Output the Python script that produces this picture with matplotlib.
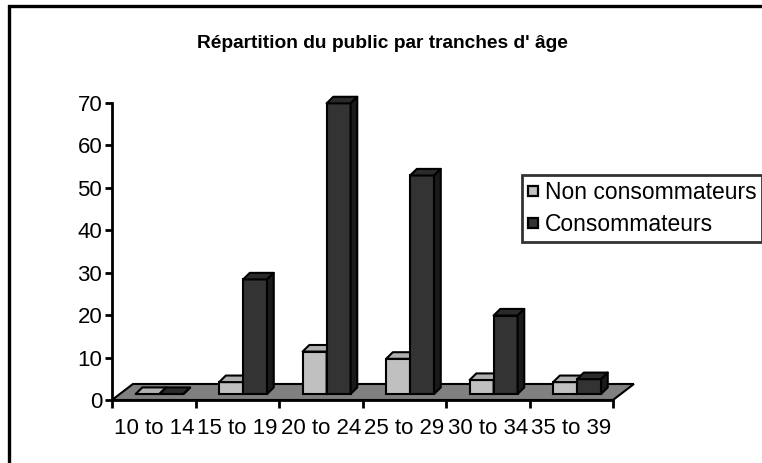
import numpy as np
import matplotlib
matplotlib.use('Agg')
import matplotlib.pyplot as plt
from matplotlib.patches import Polygon, Rectangle
from matplotlib.lines import Line2D

plt.rcParams['font.family'] = ['Liberation Sans', 'DejaVu Sans']

# donnees
categories = ['10 to 14', '15 to 19', '20 to 24', '25 to 29', '30 to 34', '35 to 39']
non_conso = [0, 2.8, 10, 8.3, 3.3, 2.8]
conso = [0, 27, 68.5, 51.5, 18.5, 3.5]
series_names = ['Non consommateurs', 'Consommateurs']
title = "Répartition du public par tranches d' âge"

# couleurs (front, top, side)
light = ('#c0c0c0', '#b0b0b0', '#8c8c8c')
dark = ('#333333', '#2a2a2a', '#1a1a1a')
floor_col = '#808080'

fig = plt.figure(figsize=(7.62, 4.63), dpi=100)
ax = fig.add_axes([0.147, 0.1361, 0.6575, 0.6415])
ax.set_xlim(0, len(categories))
ax.set_ylim(0, 70)

# profondeur (unites des donnees)
floor_dx, floor_dy = 0.25, 3.77
bar_base = 1.41
bar_dx, bar_dy = 0.08, 1.55
offset, width = 0.283, 0.287

# sol
floor = Polygon([(0, 0), (len(categories), 0),
                 (len(categories) + floor_dx, floor_dy), (floor_dx, floor_dy)],
                closed=True, facecolor=floor_col, edgecolor='black', lw=1.5,
                clip_on=False, zorder=1)
ax.add_patch(floor)


def draw_bar(x, v, cols, z):
    ax.bar(x, v, width, bottom=bar_base, align='edge', color=cols[0],
           edgecolor='black', linewidth=1.5, clip_on=False, zorder=z)
    top = bar_base + v
    ax.add_patch(Polygon([(x, top), (x + width, top),
                          (x + width + bar_dx, top + bar_dy), (x + bar_dx, top + bar_dy)],
                         closed=True, facecolor=cols[1], edgecolor='black', lw=1.5,
                         joinstyle='round', clip_on=False, zorder=z))
    ax.add_patch(Polygon([(x + width, bar_base), (x + width, top),
                          (x + width + bar_dx, top + bar_dy),
                          (x + width + bar_dx, bar_base + bar_dy)],
                         closed=True, facecolor=cols[2], edgecolor='black', lw=1.5,
                         joinstyle='round', clip_on=False, zorder=z))


z = 2
for i in range(len(categories)):
    draw_bar(i + offset, non_conso[i], light, z)
    z += 1
    draw_bar(i + offset + width, conso[i], dark, z)
    z += 1

# axes
for s in ['top', 'right']:
    ax.spines[s].set_visible(False)
ax.spines['left'].set_linewidth(2)
ax.spines['bottom'].set_linewidth(2)
ax.spines['left'].set_zorder(50)
ax.spines['bottom'].set_zorder(50)
ax.set_yticks(np.arange(0, 71, 10))
ax.set_xticks(np.arange(0, len(categories) + 1))
ax.set_xticklabels([])
ax.set_xticks(np.arange(len(categories)) + 0.5, minor=True)
ax.set_xticklabels(categories, minor=True)
ax.tick_params(axis='x', which='major', direction='out', length=6, width=2)
ax.tick_params(axis='x', which='minor', length=0, pad=13, labelsize=16)
ax.tick_params(axis='y', direction='out', length=5, width=2, pad=2, labelsize=16)
ax.patch.set_alpha(0)

fig.text(0.5013, 0.905, title, ha='center', va='center', fontsize=13.8, fontweight='bold')

handles = [Line2D([], [], linestyle='none', marker='s', markersize=6.5,
                  markerfacecolor=light[0], markeredgecolor='black', markeredgewidth=1.6),
           Line2D([], [], linestyle='none', marker='s', markersize=6.5,
                  markerfacecolor=dark[0], markeredgecolor='black', markeredgewidth=1.6)]
leg = fig.legend(handles, series_names, loc='upper left',
                 bbox_to_anchor=(522 / 762, 1 - 175 / 463), fontsize=16.5,
                 frameon=True, fancybox=False, handlelength=0.5,
                 handletextpad=0.25, borderpad=0.25, labelspacing=0.4, borderaxespad=0)
leg.get_frame().set_edgecolor('black')
leg.get_frame().set_linewidth(2)

# cadre du graphique
fig.patches.append(Rectangle((9 / 762, -0.2), 1.2, 1.2 - 6 / 463,
                             transform=fig.transFigure, fill=False,
                             edgecolor='black', lw=2.4, zorder=0))

fig.savefig('out.png', dpi=100)
